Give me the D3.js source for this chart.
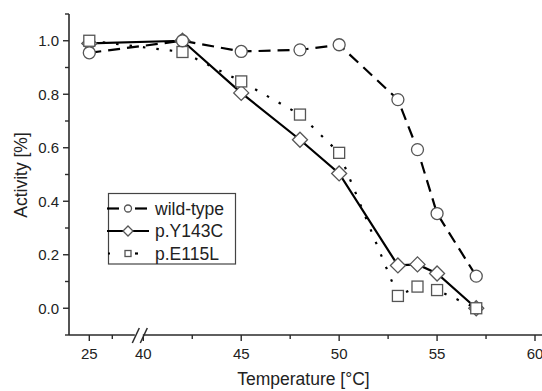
<!DOCTYPE html>
<html>
<head>
<meta charset="utf-8">
<script src="https://cdn.jsdelivr.net/npm/d3@7"></script>
<style>
  html, body { margin: 0; padding: 0; background: #fff; }
  svg { display: block; font-family: "Liberation Sans", Arial, sans-serif; }
</style>
</head>
<body>
<svg id="chart" width="542" height="391"></svg>
<script>
// ---- data ----
const temps = [25, 42, 45, 48, 50, 53, 54, 55, 57];
const wildType = [0.955, 1.0, 0.96, 0.966, 0.985, 0.78, 0.593, 0.354, 0.12];
const pY143C = [0.99, 1.0, 0.805, 0.63, 0.504, 0.16, 0.164, 0.13, 0.0];
const pE115L = [1.0, 0.958, 0.848, 0.724, 0.581, 0.046, 0.081, 0.068, 0.0];
const seriesNames = ["wild-type", "p.Y143C", "p.E115L"];
const xTicksLeft = [25];
const xTicksRight = [40, 45, 50, 55, 60];
const xMinorLeft = [26];
const xMinorRight = [42.5, 47.5, 52.5, 57.5];
const yTicks = [0.0, 0.2, 0.4, 0.6, 0.8, 1.0];
const yMinor = [-0.1, 0.1, 0.3, 0.5, 0.7, 0.9, 1.1];
const xTitle = "Temperature [°C]";
const yTitle = "Activity [%]";

// ---- layout ----
const svg = d3.select("#chart");
const axisX0 = 69, axisY0 = 335, axisTop = 14, axisRight = 542;
const xL = d3.scaleLinear().domain([24, 27]).range([66.3, 135.3]);
const xR = d3.scaleLinear().domain([40, 60]).range([143.3, 535]);
const x = t => (t < 35 ? xL(t) : xR(t));
const y = d3.scaleLinear().domain([-0.1, 1.1]).range([axisY0, axisTop]);
const axisColor = "#2a2a2a";
const textColor = "#222";

// axes lines
svg.append("line").attr("x1", axisX0).attr("x2", axisRight).attr("y1", axisY0).attr("y2", axisY0)
  .attr("stroke", axisColor).attr("stroke-width", 1.6);
svg.append("line").attr("x1", axisX0).attr("x2", axisX0).attr("y1", axisTop).attr("y2", axisY0)
  .attr("stroke", axisColor).attr("stroke-width", 1.6);

// y ticks
const yg = svg.append("g");
yg.selectAll(".ymaj").data(yTicks).join("line")
  .attr("x1", axisX0 - 6).attr("x2", axisX0).attr("y1", d => y(d)).attr("y2", d => y(d))
  .attr("stroke", axisColor).attr("stroke-width", 1.4);
yg.selectAll(".ymin").data(yMinor).join("line")
  .attr("x1", axisX0 - 4).attr("x2", axisX0).attr("y1", d => y(d)).attr("y2", d => y(d))
  .attr("stroke", axisColor).attr("stroke-width", 1.4);
yg.selectAll("text").data(yTicks).join("text")
  .attr("x", axisX0 - 10).attr("y", d => y(d)).attr("dy", "0.36em")
  .attr("text-anchor", "end").attr("font-size", 15).attr("fill", textColor)
  .text(d => d3.format(".1f")(d));

// x ticks
const xg = svg.append("g");
const majX = xTicksLeft.map(t => ({t, x: xL(t)})).concat(xTicksRight.map(t => ({t, x: xR(t)})));
const minX = xMinorLeft.map(t => xL(t)).concat(xMinorRight.map(t => xR(t)));
xg.selectAll(".xmaj").data(majX).join("line")
  .attr("x1", d => d.x).attr("x2", d => d.x).attr("y1", axisY0).attr("y2", axisY0 + 6)
  .attr("stroke", axisColor).attr("stroke-width", 1.4);
xg.selectAll(".xmin").data(minX).join("line")
  .attr("x1", d => d).attr("x2", d => d).attr("y1", axisY0).attr("y2", axisY0 + 4)
  .attr("stroke", axisColor).attr("stroke-width", 1.4);
xg.selectAll("text").data(majX).join("text")
  .attr("x", d => d.x).attr("y", axisY0 + 24)
  .attr("text-anchor", "middle").attr("font-size", 15).attr("fill", textColor)
  .text(d => d.t);

// axis break
const bx = (xL.range()[1] + xR(40)) / 2 + 0.5;
const brk = svg.append("g");
brk.append("rect").attr("x", bx - 5).attr("y", axisY0 - 2).attr("width", 8).attr("height", 4).attr("fill", "#fff");
[-4, 4].forEach(o => {
  brk.append("line").attr("x1", bx + o - 3.5).attr("y1", axisY0 + 8).attr("x2", bx + o + 3.5).attr("y2", axisY0 - 7)
    .attr("stroke", axisColor).attr("stroke-width", 1.5);
});

// titles
svg.append("text").attr("x", 303.5).attr("y", 385).attr("text-anchor", "middle")
  .attr("font-size", 17.5).attr("fill", textColor).text(xTitle);
svg.append("text").attr("transform", "translate(27,175) rotate(-90)").attr("text-anchor", "middle")
  .attr("font-size", 17.5).attr("fill", textColor).text(yTitle);

// ---- series ----
const series = [
  {name: seriesNames[0], values: wildType, dash: "12,7", shape: "circle"},
  {name: seriesNames[1], values: pY143C, dash: null, shape: "diamond"},
  {name: seriesNames[2], values: pE115L, dash: "2.5,11", shape: "square"}
];
const line = d3.line().x(d => x(d[0])).y(d => y(d[1]));
series.forEach(s => {
  svg.append("path").datum(temps.map((t, i) => [t, s.values[i]]))
    .attr("d", line).attr("fill", "none").attr("stroke", "#000")
    .attr("stroke-width", 2.2).attr("stroke-dasharray", s.dash);
});

function drawMarker(g, shape, cx, cy, size) {
  const stroke = "#555";
  if (shape === "circle") {
    g.append("circle").attr("cx", cx).attr("cy", cy).attr("r", size / 2)
      .attr("fill", "#fff").attr("stroke", stroke).attr("stroke-width", 1.3);
  } else if (shape === "square") {
    g.append("rect").attr("x", cx - size / 2 + 0.5).attr("y", cy - size / 2 + 0.5)
      .attr("width", size - 1).attr("height", size - 1)
      .attr("fill", "#fff").attr("stroke", stroke).attr("stroke-width", 1.3);
  } else {
    const h = size / 2 + 1.5;
    g.append("path").attr("d", `M${cx},${cy - h}L${cx + h},${cy}L${cx},${cy + h}L${cx - h},${cy}Z`)
      .attr("fill", "#fff").attr("stroke", stroke).attr("stroke-width", 1.3);
  }
}
const mg = svg.append("g");
[series[1], series[2], series[0]].forEach(s => {
  temps.forEach((t, i) => drawMarker(mg, s.shape, x(t), y(s.values[i]), 12));
});

// ---- legend ----
const lg = svg.append("g");
lg.append("rect").attr("x", 108.5).attr("y", 193.5).attr("width", 127).attr("height", 70.5)
  .attr("fill", "#fff").attr("stroke", "#444").attr("stroke-width", 1.2);
const rowY = [208.5, 231, 253.5];
series.forEach((s, i) => {
  const yy = rowY[i];
  if (s.shape === "circle") {
    lg.append("line").attr("x1", 107).attr("x2", 119).attr("y1", yy).attr("y2", yy).attr("stroke", "#000").attr("stroke-width", 2.2);
    lg.append("line").attr("x1", 135).attr("x2", 147).attr("y1", yy).attr("y2", yy).attr("stroke", "#000").attr("stroke-width", 2.2);
  } else if (s.shape === "diamond") {
    lg.append("line").attr("x1", 107).attr("x2", 149).attr("y1", yy).attr("y2", yy).attr("stroke", "#000").attr("stroke-width", 2.2);
  } else {
    lg.append("line").attr("x1", 108).attr("x2", 110).attr("y1", yy).attr("y2", yy).attr("stroke", "#000").attr("stroke-width", 2.2);
    lg.append("line").attr("x1", 135).attr("x2", 138).attr("y1", yy).attr("y2", yy).attr("stroke", "#000").attr("stroke-width", 2.2);
  }
  drawMarker(lg, s.shape, 128, yy, 7);
  lg.append("text").attr("x", 155).attr("y", yy).attr("dy", "0.36em")
    .attr("font-size", 17.5).attr("fill", textColor).text(s.name);
});
</script>
</body>
</html>
